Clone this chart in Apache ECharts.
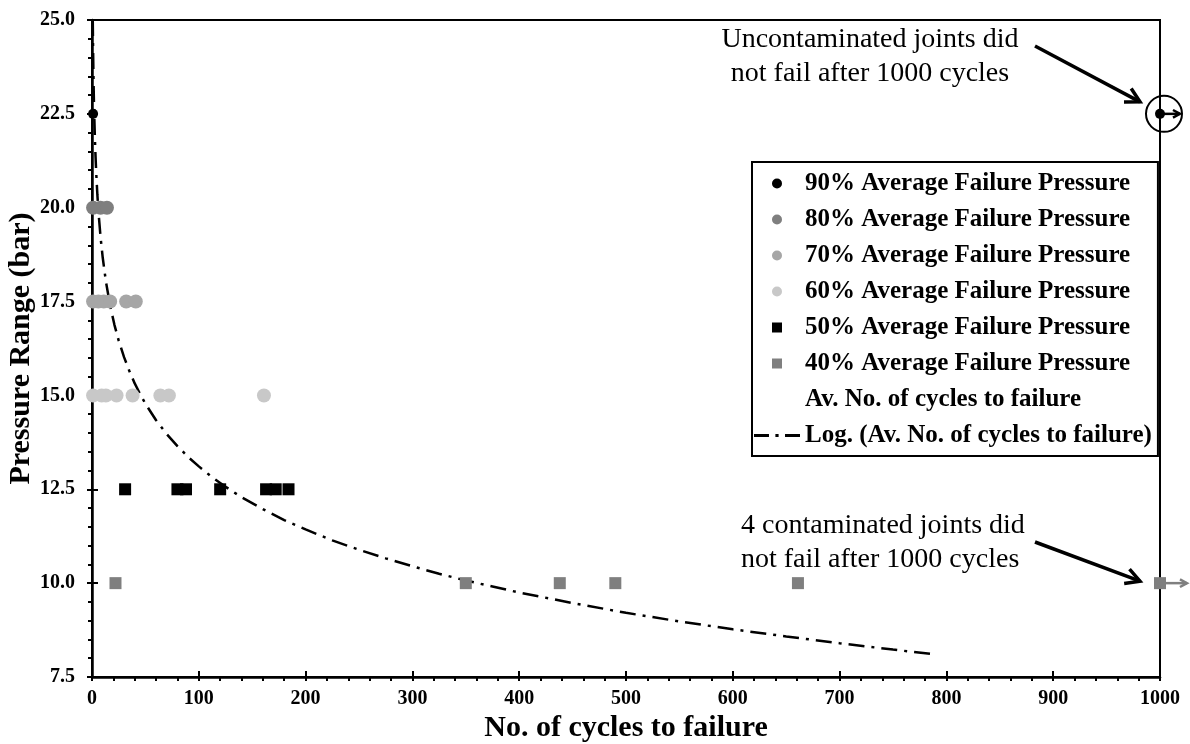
<!DOCTYPE html>
<html>
<head>
<meta charset="utf-8">
<script src="https://cdn.jsdelivr.net/npm/echarts@6/dist/echarts.min.js"></script>
<style>
html, body { margin: 0; padding: 0; background: #fff; }
#chart { width: 1190px; height: 744px; }
</style>
</head>
<body>
<div id="chart"></div>
<script>
const FONT = '"Liberation Serif", "Times New Roman", serif';

// pressure levels (x = cycles to failure, y = pressure range in bar)
const p90 = [[1, 22.5], [1000, 22.5]];
const p80 = [[1, 20], [8, 20], [14, 20]];
const p70 = [[1, 17.5], [6, 17.5], [11, 17.5], [17, 17.5], [32, 17.5], [41, 17.5]];
const p60 = [[1, 15], [9, 15], [13, 15], [23, 15], [38, 15], [64, 15], [72, 15], [161, 15]];
const p50 = [[31, 12.5], [80, 12.5], [88, 12.5], [120, 12.5], [163, 12.5], [172, 12.5], [184, 12.5]];
const p40 = [[22, 10], [350, 10], [438, 10], [490, 10], [661, 10], [1000, 10]];

// log trend line
const trendX = [0.72, 1, 1.5, 2, 3, 4, 5, 6, 8, 10, 13, 17, 21, 25, 30, 35, 40, 45, 50, 60, 70, 80, 90, 100,
  113, 126, 140, 160, 180, 200, 225, 250, 275, 300, 325, 350, 375, 400, 450, 500, 550, 600, 650, 700, 750, 790];
const trendY = [25.0, 24.25, 23.27, 22.57, 21.59, 20.9, 20.36, 19.91, 19.22, 18.68, 18.04, 17.39, 16.88, 16.46,
  16.02, 15.65, 15.32, 15.04, 14.78, 14.34, 13.97, 13.65, 13.36, 13.11, 12.81, 12.55, 12.29, 11.97, 11.68, 11.43,
  11.14, 10.89, 10.66, 10.45, 10.25, 10.07, 9.91, 9.75, 9.47, 9.21, 8.98, 8.77, 8.58, 8.4, 8.23, 8.1];

const names = [
  '90% Average Failure Pressure',
  '80% Average Failure Pressure',
  '70% Average Failure Pressure',
  '60% Average Failure Pressure',
  '50% Average Failure Pressure',
  '40% Average Failure Pressure',
  'Av. No. of cycles to failure',
  'Log. (Av. No. of cycles to failure)'
];
const colors = ['#000000', '#7f7f7f', '#a6a6a6', '#c8c8c8', '#000000', '#7f7f7f'];

const yMin = 7.5, yMax = 25, yStep = 2.5;
const xMin = 0, xMax = 1000, xStep = 100;

const SQUARE = 'path://M0,0H10V10H0Z';
const DASHDOT = 'path://M0,0H14V2.6H0ZM20,0H23V2.6H20ZM29,0H43V2.6H29Z';

const chart = echarts.init(document.getElementById('chart'));

function scatter(i, data, symbol, size) {
  return {
    name: names[i],
    type: 'scatter',
    data: data,
    symbol: symbol,
    symbolSize: size,
    clip: false,
    itemStyle: { color: colors[i], opacity: 1 },
    emphasis: { disabled: true },
    z: 3
  };
}

const axisFont = { fontFamily: FONT, fontWeight: 'bold', fontSize: 20, color: '#000' };
const titleFont = { fontFamily: FONT, fontWeight: 'bold', fontSize: 30, color: '#000' };

const option = {
  animation: false,
  backgroundColor: '#fff',
  grid: {
    left: 92, right: 30, top: 20, bottom: 67,
    outerBoundsMode: 'none',
    containLabel: false,
    show: true, borderColor: '#000', borderWidth: 2
  },
  xAxis: [{
    type: 'value', min: xMin, max: xMax, interval: xStep,
    name: 'No. of cycles to failure', nameLocation: 'middle', nameGap: 36,
    nameMoveOverlap: false,
    nameTextStyle: titleFont,
    axisLine: { lineStyle: { color: '#000', width: 2.5 } },
    axisTick: { show: true, length: 4, lineStyle: { color: '#000', width: 2 } },
    minorTick: { show: true, splitNumber: 5, length: 4, lineStyle: { color: '#000', width: 2 } },
    axisLabel: Object.assign({ margin: 12, formatter: v => String(v) }, axisFont),
    splitLine: { show: false }
  }, {
    type: 'value', min: xMin, max: xMax, interval: xStep, position: 'bottom',
    axisLine: { show: false },
    axisTick: { show: true, inside: true, length: 6, lineStyle: { color: '#000', width: 2 } },
    axisLabel: { show: false }, splitLine: { show: false }
  }],
  yAxis: [{
    type: 'value', min: yMin, max: yMax, interval: yStep,
    name: 'Pressure Range (bar)', nameLocation: 'middle', nameGap: 56,
    nameMoveOverlap: false,
    nameTextStyle: titleFont,
    axisLine: { lineStyle: { color: '#000', width: 2.5 } },
    axisTick: { show: true, length: 5, lineStyle: { color: '#000', width: 2 } },
    minorTick: { show: true, splitNumber: 5, length: 4, lineStyle: { color: '#000', width: 2 } },
    axisLabel: Object.assign({ margin: 17, formatter: v => v.toFixed(1) }, axisFont),
    splitLine: { show: false }
  }, {
    type: 'value', min: yMin, max: yMax, interval: yStep, position: 'left',
    axisLine: { show: false },
    axisTick: { show: true, inside: true, length: 6, lineStyle: { color: '#000', width: 2 } },
    axisLabel: { show: false }, splitLine: { show: false }
  }],
  legend: {
    orient: 'vertical',
    left: 752, top: 162,
    itemWidth: 46, itemHeight: 10, itemGap: 11,
    padding: [9, 6, 8, 2],
    borderColor: '#000', borderWidth: 2,
    backgroundColor: '#fff',
    selectedMode: false,
    textStyle: { fontFamily: FONT, fontWeight: 'bold', fontSize: 25, color: '#000', lineHeight: 25 },
    data: [
      { name: names[0], icon: 'circle' },
      { name: names[1], icon: 'circle' },
      { name: names[2], icon: 'circle' },
      { name: names[3], icon: 'circle' },
      { name: names[4], icon: SQUARE },
      { name: names[5], icon: SQUARE },
      { name: names[6], icon: 'none' },
      { name: names[7], icon: DASHDOT }
    ]
  },
  series: [
    scatter(0, p90, 'circle', 10),
    scatter(1, p80, 'circle', 14),
    scatter(2, p70, 'circle', 14),
    scatter(3, p60, 'circle', 14),
    scatter(4, p50, 'rect', 12),
    scatter(5, p40, 'rect', 12),
    { name: names[6], type: 'scatter', data: [], symbol: 'none' },
    {
      name: names[7],
      type: 'line',
      data: trendX.map((x, i) => [x, trendY[i]]),
      symbol: 'none',
      showSymbol: false,
      smooth: false,
      lineStyle: { color: '#000', width: 2.5, type: [16, 7, 3, 7] },
      itemStyle: { color: '#000' },
      emphasis: { disabled: true },
      z: 2
    }
  ]
};

chart.setOption(option);

// annotation arrows tied to the run-out points
function arrow(x1, y1, x2, y2, head, color, lw) {
  const a = Math.atan2(y2 - y1, x2 - x1);
  const h1 = [x2 - head * Math.cos(a - 0.5), y2 - head * Math.sin(a - 0.5)];
  const h2 = [x2 - head * Math.cos(a + 0.5), y2 - head * Math.sin(a + 0.5)];
  return [
    { type: 'polyline', shape: { points: [[x1, y1], [x2, y2]] }, style: { stroke: color, lineWidth: lw, fill: null }, z: 10 },
    { type: 'polyline', shape: { points: [h1, [x2, y2], h2] }, style: { stroke: color, lineWidth: lw, fill: null }, z: 10 }
  ];
}

const r1 = chart.convertToPixel({ gridIndex: 0 }, p90[1]);
const r2 = chart.convertToPixel({ gridIndex: 0 }, p40[5]);
const noteFont = '28px "Liberation Serif", "Times New Roman", serif';

const graphics = [
  {
    type: 'text', x: 870, y: 23, z: 10,
    style: { text: 'Uncontaminated joints did\nnot fail after 1000 cycles', font: noteFont, fill: '#000', align: 'center', lineHeight: 34 }
  },
  {
    type: 'text', x: 741, y: 509, z: 10,
    style: { text: '4 contaminated joints did\nnot fail after 1000 cycles', font: noteFont, fill: '#000', align: 'left', lineHeight: 34 }
  },
  {
    type: 'circle', shape: { cx: r1[0] + 4, cy: r1[1], r: 18 },
    style: { stroke: '#000', lineWidth: 2, fill: null }, z: 10
  }
]
  .concat(arrow(1035, 46, r1[0] - 20, r1[1] - 12, 16, '#000', 3.5))
  .concat(arrow(r1[0], r1[1], r1[0] + 20, r1[1], 8, '#000', 2.5))
  .concat(arrow(1035, 542, r2[0] - 20, r2[1] - 2, 16, '#000', 3.5))
  .concat(arrow(r2[0] + 6, r2[1], r2[0] + 27, r2[1], 8, '#7f7f7f', 2.5));

chart.setOption({ graphic: graphics });
</script>
</body>
</html>
